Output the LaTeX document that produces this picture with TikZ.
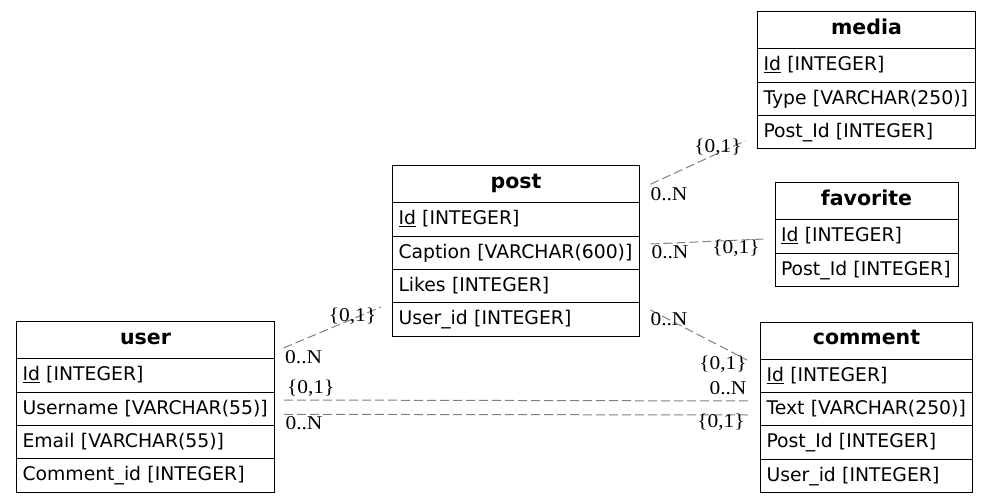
\documentclass[tikz,border=0pt]{standalone}
\usepackage{fontspec}
\setmainfont{DejaVu Sans}
\newfontfamily\lblfont[FakeStretch=1.1]{Liberation Serif}
\usetikzlibrary{calc}
\definecolor{relgray}{RGB}{128,128,128}
\tikzset{
  cellbase/.style={draw=black, line width=1pt, anchor=north west, outer sep=0pt,
    inner xsep=6pt, inner ysep=0pt, text width=#1, text height=13.7pt},
  cell/.style={cellbase=#1, minimum height=33.4pt, align=left, text depth=3pt,
    font=\fontsize{18.8}{22}\selectfont,
    execute at begin node=\hbox\bgroup, execute at end node=\egroup},
  hcell/.style={cellbase=#1, minimum height=37pt, align=center, text depth=6pt,
    font=\fontsize{20.5}{24}\selectfont\bfseries},
  rel/.style={draw=relgray, line width=1pt, dash pattern=on 9pt off 4pt},
  lbl/.style={font=\lblfont\fontsize{19.5}{22}\selectfont, inner sep=0pt, anchor=base}
}
\begin{document}
\begin{tikzpicture}[x=1pt,y=-1pt]
\fill[white] (0,0) rectangle (991,503);
\useasboundingbox (0,0) rectangle (991,503);

% media
\node[hcell=206pt] (media-h) at (757.5,11.7) {media};
\node[cell=206pt] (media-1) at (media-h.south west) {\underline{Id} [INTEGER]};
\node[cell=206pt] (media-2) at (media-1.south west) {Type [VARCHAR(250)]};
\node[cell=206pt] (media-3) at (media-2.south west) {Post\_Id [INTEGER]};

% post
\node[hcell=235pt] (post-h) at (392.5,165.7) {post};
\node[cell=235pt] (post-1) at (post-h.south west) {\underline{Id} [INTEGER]};
\node[cell=235pt] (post-2) at (post-1.south west) {Caption [VARCHAR(600)]};
\node[cell=235pt] (post-3) at (post-2.south west) {Likes [INTEGER]};
\node[cell=235pt] (post-4) at (post-3.south west) {User\_id [INTEGER]};

% favorite
\node[hcell=171pt] (fav-h) at (775,182.7) {favorite};
\node[cell=171pt] (fav-1) at (fav-h.south west) {\underline{Id} [INTEGER]};
\node[cell=171pt] (fav-2) at (fav-1.south west) {Post\_Id [INTEGER]};

% user
\node[hcell=246pt] (user-h) at (16.5,321.7) {user};
\node[cell=246pt] (user-1) at (user-h.south west) {\underline{Id} [INTEGER]};
\node[cell=246pt] (user-2) at (user-1.south west) {Username [VARCHAR(55)]};
\node[cell=246pt] (user-3) at (user-2.south west) {Email [VARCHAR(55)]};
\node[cell=246pt] (user-4) at (user-3.south west) {Comment\_id [INTEGER]};

% comment
\node[hcell=200pt] (com-h) at (760.5,322) {comment};
\node[cell=200pt] (com-1) at (com-h.south west) {\underline{Id} [INTEGER]};
\node[cell=200pt] (com-2) at (com-1.south west) {Text [VARCHAR(250)]};
\node[cell=200pt] (com-3) at (com-2.south west) {Post\_Id [INTEGER]};
\node[cell=200pt] (com-4) at (com-3.south west) {User\_id [INTEGER]};

% relations
\draw[rel] ([shift={(11,0)}]post-h.east) -- ([shift={(-12,8.5)}]media-3.west);
\draw[rel] ([shift={(11,-8.8)}]post-2.east) -- ([shift={(-11,2.6)}]fav-1.west);
\draw[rel] ([shift={(11,-9.6)}]post-4.east) -- ([shift={(-13.5,1)}]com-h.south west);
\draw[rel] ([shift={(9,7.8)}]user-h.east) -- ([shift={(-11.5,-12.6)}]post-4.west);
\draw[rel] ([shift={(9.5,-8.8)}]user-2.east) -- ([shift={(-11.5,-8.1)}]com-2.west);
\draw[rel] ([shift={(9.5,5.5)}]user-2.east) -- ([shift={(-11.5,5.9)}]com-2.west);

% labels
\node[lbl] (l1a) at (669,200.8) {0..N};
\node[lbl] (l1b) at (718,152) {\{0,1\}};
\node[lbl] (l2a) at (670,258.6) {0..N};
\node[lbl] (l2b) at (736,253.4) {\{0,1\}};
\node[lbl] (l3a) at (669,325.9) {0..N};
\node[lbl] (l3b) at (723,369.9) {\{0,1\}};
\node[lbl] (l4a) at (303.7,363.6) {0..N};
\node[lbl] (l4b) at (352.5,321.9) {\{0,1\}};
\node[lbl] (l5a) at (310.8,393.8) {\{0,1\}};
\node[lbl] (l5b) at (728,394.6) {0..N};
\node[lbl] (l6a) at (304,429.6) {0..N};
\node[lbl] (l6b) at (721,427.8) {\{0,1\}};
\end{tikzpicture}
\end{document}
